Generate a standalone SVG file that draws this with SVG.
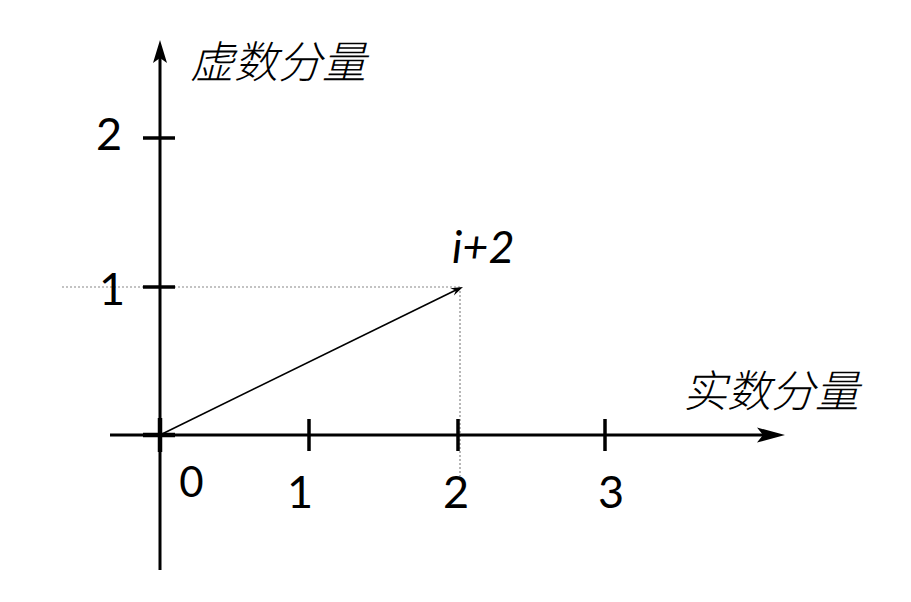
<svg xmlns="http://www.w3.org/2000/svg" width="911" height="602" viewBox="0 0 911 602">
<style>
.axis{stroke:#000;stroke-width:3;fill:none}
.tick{stroke:#000;stroke-width:3.5;fill:none}
.dot{stroke:#888;stroke-width:1.2;stroke-dasharray:2 2;fill:none}
.vec{stroke:#000;stroke-width:1.6;fill:none}
.head{fill:#000;stroke:none}
.num{font-family:Lato,"DejaVu Sans",sans-serif;font-size:45px;fill:#000}
.lbl{font-family:"Noto Sans CJK SC","DejaVu Sans",sans-serif;font-size:44px;font-weight:300;font-style:italic;fill:#000}
</style>
<rect width="911" height="602" fill="#fff"/>
<g id="guides">
<line class="dot" x1="62" y1="287" x2="460" y2="287"/>
<line class="dot" x1="460" y1="287" x2="460" y2="476"/>
</g>
<g id="connectors">
<g id="x-axis">
<line class="axis" x1="110" y1="435" x2="764" y2="435"/>
<path class="head" d="M785,435 L757,427.5 L763,435 L757,442.5 Z"/>
</g>
<g id="y-axis">
<line class="axis" x1="160" y1="570" x2="160" y2="58"/>
<path class="head" d="M160,40 L153,63 L160,58 L167,63 Z"/>
</g>
<g id="vector">
<line class="vec" x1="160" y1="435" x2="456" y2="290"/>
<path class="head" d="M463,287 L450.3,288.2 L455.8,290.5 L453.9,295.4 Z"/>
</g>
</g>
<g id="ticks">
<line class="tick" x1="143" y1="435" x2="175" y2="435" style="stroke-width:4.5"/>
<line class="tick" x1="160" y1="418" x2="160" y2="452" style="stroke-width:4.5"/>
<line class="tick" x1="309" y1="419" x2="309" y2="451"/>
<line class="tick" x1="458" y1="419" x2="458" y2="451"/>
<line class="tick" x1="605" y1="419" x2="605" y2="451"/>
<line class="tick" x1="143" y1="138" x2="175" y2="138"/>
<line class="tick" x1="143" y1="287" x2="175" y2="287"/>
</g>
<g id="labels">
<text class="num" x="191.5" y="497" text-anchor="middle" style="font-size:42px">0</text>
<text class="num" x="300" y="508" text-anchor="middle">1</text>
<text class="num" x="456" y="508" text-anchor="middle">2</text>
<text class="num" x="611" y="508" text-anchor="middle">3</text>
<text class="num" x="109" y="150" text-anchor="middle">2</text>
<text class="num" x="112" y="305" text-anchor="middle">1</text>
<text class="num" x="452" y="263" style="font-style:italic">i+2</text>
</g>
<g id="axis-titles">
<text class="lbl" x="190" y="78">虚数分量</text>
<text class="lbl" x="683" y="407">实数分量</text>
</g>
</svg>
